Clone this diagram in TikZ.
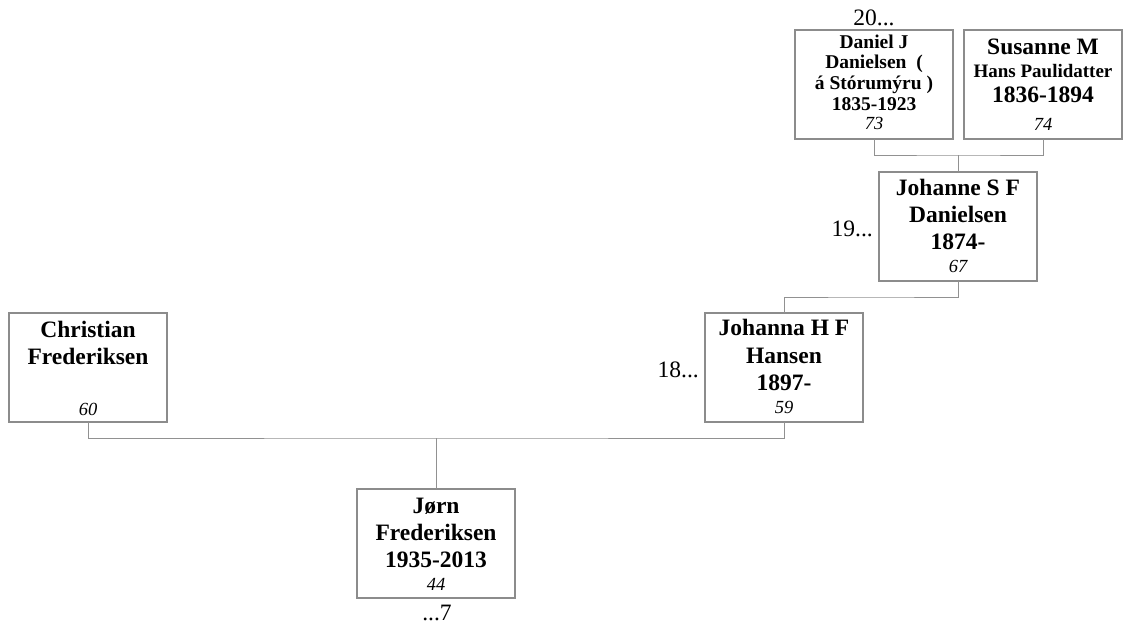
\documentclass[tikz,border=0pt]{standalone}
\usepackage{fontspec}
\setmainfont{Liberation Serif}
\definecolor{boxgray}{RGB}{140,140,140}
\definecolor{linegray}{RGB}{145,145,145}
\tikzset{
  pbox/.style={draw=boxgray, line width=1.3pt, minimum width=158pt, minimum height=109pt, inner sep=0pt, outer sep=0pt},
  conn/.style={draw=linegray, line width=1pt},
  nm/.style={anchor=base, inner sep=0pt, font=\fontsize{23.5}{27}\selectfont\bfseries},
  nmsmall/.style={anchor=base, inner sep=0pt, font=\fontsize{19.5}{21}\selectfont\bfseries},
  nmsub/.style={anchor=base, inner sep=0pt, font=\fontsize{19}{21}\selectfont\bfseries},
  num/.style={anchor=base, inner sep=0pt, font=\fontsize{18.5}{21}\selectfont\itshape},
  gen/.style={anchor=base, inner sep=0pt, font=\fontsize{23.5}{27}\selectfont},
}
\begin{document}
\begin{tikzpicture}[x=1pt,y=-1pt]
\useasboundingbox (0,0) rectangle (1126,624);
% boxes
\node[pbox] (christian) at (88,367.5) {};
\node[pbox] (jorn) at (436,543.5) {};
\node[pbox] (johanna) at (784,367.5) {};
\node[pbox] (johanne) at (958,226.5) {};
\node[pbox] (daniel) at (874,84.5) {};
\node[pbox] (susanne) at (1043,84.5) {};
% connectors
\coordinate (m1) at (436,438);
\coordinate (m2) at (871,297);
\coordinate (m3) at (958,155);
\draw[conn] (christian.south) |- (m1) -| (johanna.south);
\draw[conn] (m1) -- (jorn.north);
\draw[conn] (johanne.south) |- (m2) -| (johanna.north);
\draw[conn] (daniel.south) |- (m3) -| (susanne.south);
\draw[conn] (m3) -- (johanne.north);
% Christian
\node[nm] (c1) at ([yshift=-24pt]christian.north) {Christian};
\node[nm] (c2) at ([yshift=-51pt]christian.north) {Frederiksen};
\node[num] (c3) at ([yshift=-102pt]christian.north) {60};
% Jorn
\node[nm] (j1) at ([yshift=-24pt]jorn.north) {Jørn};
\node[nm] (j2) at ([yshift=-51pt]jorn.north) {Frederiksen};
\node[nm] (j3) at ([yshift=-78pt]jorn.north) {1935-2013};
\node[num] (j4) at ([yshift=-101pt]jorn.north) {44};
% Johanna
\node[nm] (a1) at ([yshift=-22.5pt]johanna.north) {Johanna H F};
\node[nm] (a2) at ([yshift=-50pt]johanna.north) {Hansen};
\node[nm] (a3) at ([yshift=-77pt]johanna.north) {1897-};
\node[num] (a4) at ([yshift=-100pt]johanna.north) {59};
% Johanne
\node[nm] (b1) at ([yshift=-23pt]johanne.north) {Johanne S F};
\node[nm] (b2) at ([yshift=-50pt]johanne.north) {Danielsen};
\node[nm] (b3) at ([yshift=-77pt]johanne.north) {1874-};
\node[num] (b4) at ([yshift=-100pt]johanne.north) {67};
% Daniel
\node[nmsmall] (d1) at ([yshift=-18pt]daniel.north) {Daniel J};
\node[nmsmall] (d2) at ([yshift=-38.5pt]daniel.north) {Danielsen\ \ (};
\node[nmsmall] (d3) at ([yshift=-59pt]daniel.north) {á Stórumýru )};
\node[nmsmall] (d4) at ([yshift=-80pt]daniel.north) {1835-1923};
\node[num] (d5) at ([yshift=-99pt]daniel.north) {73};
% Susanne
\node[nm] (s1) at ([yshift=-24pt]susanne.north) {Susanne M};
\node[nmsub] (s2) at ([yshift=-47pt]susanne.north) {Hans Paulidatter};
\node[nm] (s3) at ([yshift=-72pt]susanne.north) {1836-1894};
\node[num] (s4) at ([yshift=-100pt]susanne.north) {74};
% generation labels
\node[gen] (g20) at (874,25) {20...};
\node[gen, anchor=base east] (g19) at (873,236) {19...};
\node[gen, anchor=base east] (g18) at (699,377) {18...};
\node[gen] (g7) at (437,620) {...7};
\end{tikzpicture}
\end{document}
